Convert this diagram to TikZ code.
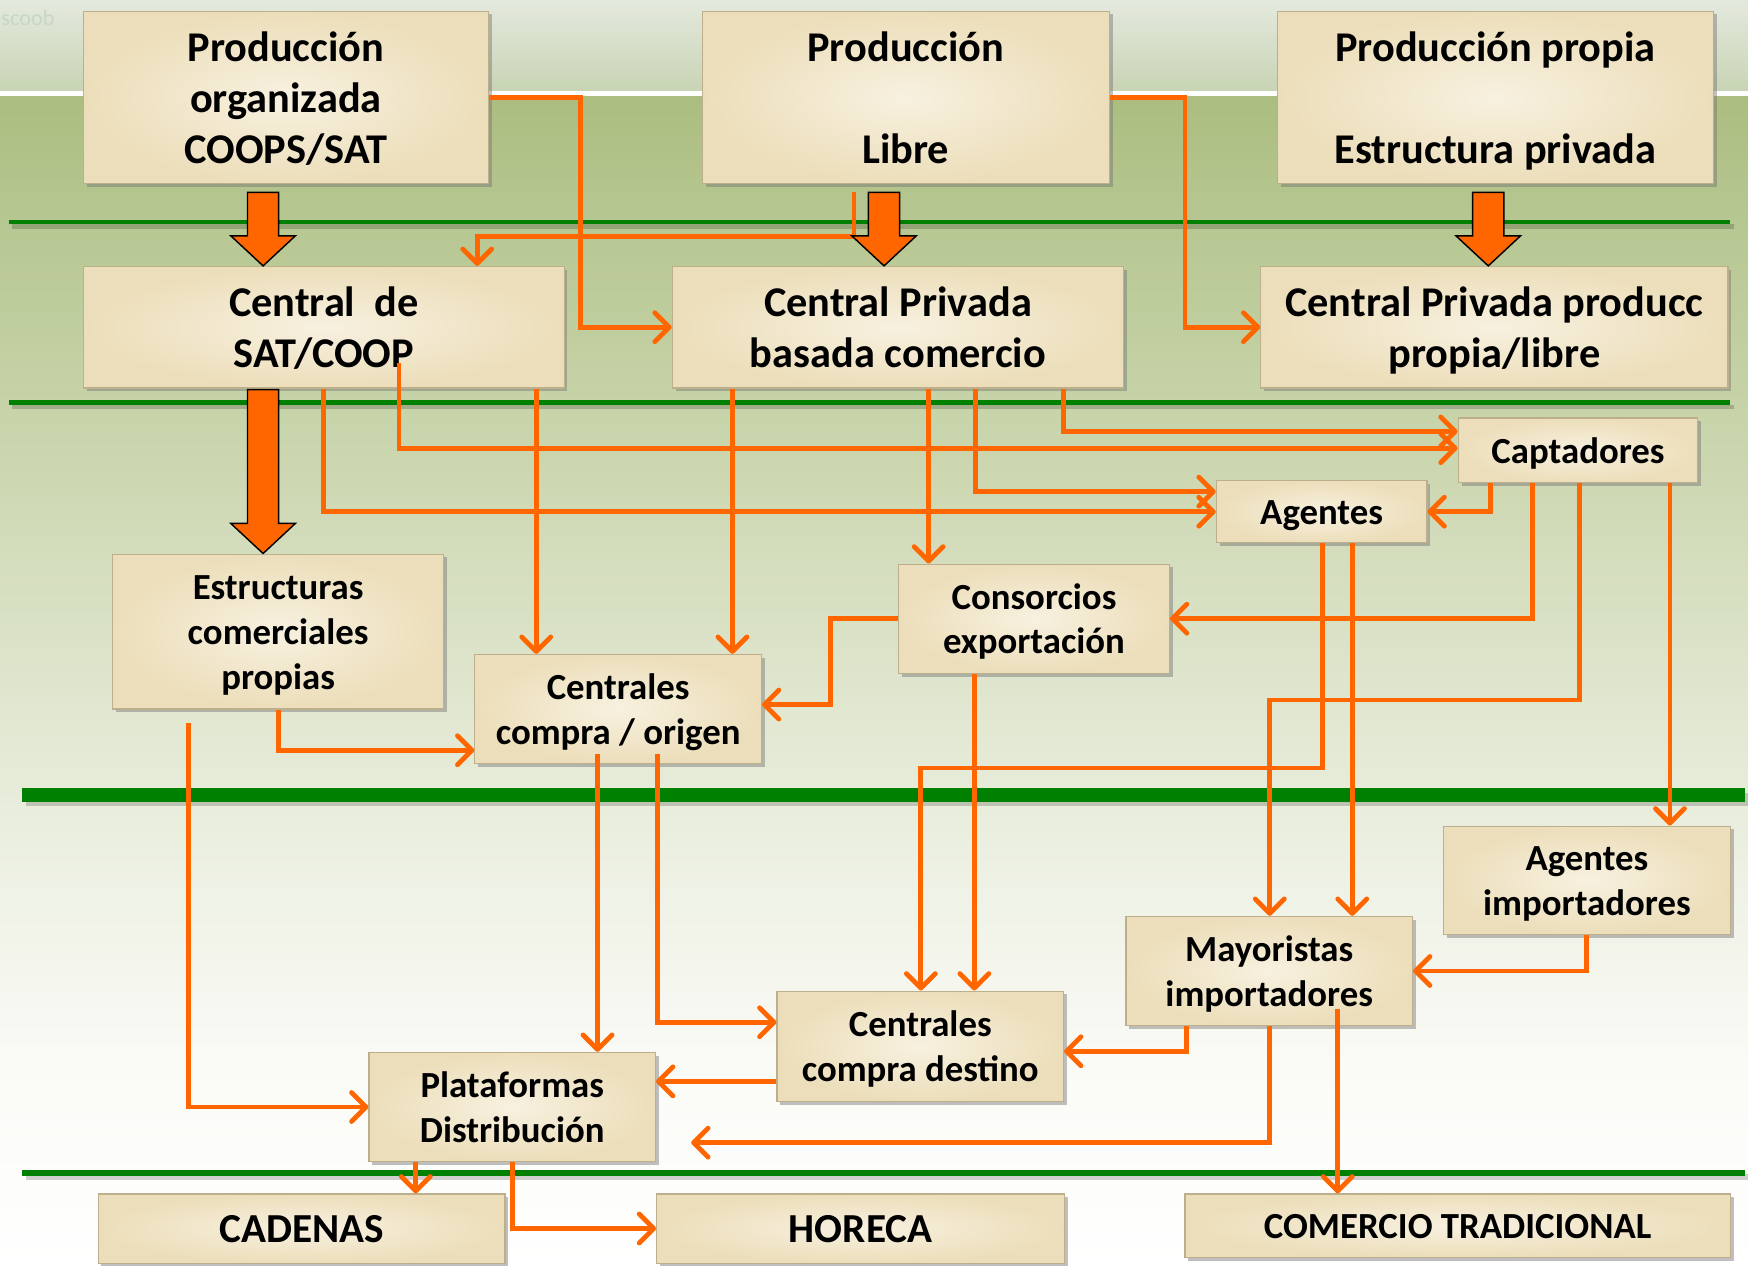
\documentclass[tikz,border=0pt]{standalone}
\usepackage{fontspec}
\setmainfont{Carlito}
\usetikzlibrary{arrows.meta,calc,shadows}
\definecolor{orng}{RGB}{255,102,0}
\definecolor{grn}{RGB}{0,128,0}
\definecolor{bgA}{RGB}{228,233,222}
\definecolor{bgB}{RGB}{200,212,180}
\definecolor{g1}{RGB}{250,250,246}
\definecolor{g2}{RGB}{239,242,230}
\definecolor{g3}{RGB}{226,232,210}
\definecolor{g4}{RGB}{212,221,189}
\definecolor{g5}{RGB}{197,210,166}
\definecolor{g6}{RGB}{183,199,146}
\definecolor{g7}{RGB}{172,189,128}
\definecolor{parchL}{RGB}{248,241,224}
\definecolor{parchD}{RGB}{236,222,186}
\definecolor{edge}{RGB}{190,175,140}
\definecolor{faint}{RGB}{200,214,198}
\pgfdeclareverticalshading{bggreen}{100bp}{color(0bp)=(white); color(25bp)=(white); color(33.9bp)=(g1); color(41.05bp)=(g2); color(48.2bp)=(g3); color(55.3bp)=(g4); color(62.5bp)=(g5); color(69.6bp)=(g6); color(75bp)=(g7); color(100bp)=(g7)}
\newcommand\blockarr[2]{\draw[bigarr] ($(#1)+(-14,0)$) -- ($(#2)+(-14,-27)$) -- ($(#2)+(-29,-27)$) -- (#2) -- ($(#2)+(29,-27)$) -- ($(#2)+(14,-27)$) -- ($(#1)+(14,0)$) -- cycle;}
\newcommand\hstrut{\rule{0pt}{1.0em}}
\newcommand\dstrut{\rule[-0.3em]{0pt}{0pt}}
\tikzset{
 box/.style={rectangle, inner sep=0pt, inner color=parchL, outer color=parchD, draw=edge, line width=1pt,
   drop shadow={shadow xshift=3pt,shadow yshift=-3pt,opacity=0.45,fill=black!55},
   align=center, text=black, font=\bfseries\fontsize{38}{46}\selectfont},
 sbox/.style={box, font=\bfseries\fontsize{33}{40}\selectfont},
 bx/.style n args={2}{minimum width=#1pt, minimum height=#2pt},
 conn/.style={draw=orng, line width=4.3pt, -{Straight Barb[round,length=13pt,width=26pt]}},
 bigarr/.style={fill=orng, draw=black, line width=1.3pt, line join=miter},
}
\begin{document}
\begin{tikzpicture}[x=1pt,y=-1pt]
\useasboundingbox (0,0) rectangle (1568,1137);
% background
\shade[top color=bgA, bottom color=bgB] (0,0) rectangle (1568,82);
\fill[white!96!bgA] (0,82) rectangle (1568,87);
\shade[shading=bggreen] (0,87) rectangle (1568,1137);
\node[font=\fontsize{20}{24}\selectfont, text=faint, anchor=base west, inner sep=0pt] (wm) at (1,23) {scoob};
% green separators
\foreach \yy/\xa/\xb/\w in {199/8/1552/4, 361/8/1552/4, 713/20/1565/12, 1052/20/1565/5} {
  \draw[black, opacity=0.18, line width=\w pt] (\xa+3,\yy+4) -- (\xb+3,\yy+4);
  \draw[grn, line width=\w pt] (\xa,\yy) -- (\xb,\yy);
}
% boxes
\node[box, bx={363}{155}] (P1) at (256.5,87.5) {\hstrut Producción\\organizada\\COOPS/SAT\dstrut};
\node[box, bx={365}{155}] (P2) at (812.5,87.5) {\hstrut Producción\\[46pt]Libre\dstrut};
\node[box, bx={391}{155}] (P3) at (1341.5,87.5) {\hstrut Producción propia\\[46pt]Estructura privada\dstrut};
\node[box, bx={431}{109}] (C1) at (290.5,293.5) {\hstrut Central\ \ de\\SAT/COOP\dstrut};
\node[box, bx={405}{109}] (C2) at (805.5,293.5) {\hstrut Central Privada\\basada comercio\dstrut};
\node[box, bx={419}{109}] (C3) at (1340.5,293.5) {\hstrut Central Privada producc\\propia/libre\dstrut};
\node[sbox, bx={215}{58}] (Capt) at (1415.5,404) {\hstrut Captadores\dstrut};
\node[sbox, bx={189}{56}] (Ag) at (1185.5,459) {\hstrut Agentes\dstrut};
\node[sbox, bx={297}{139}] (Estr) at (249.5,566.5) {\hstrut Estructuras\\comerciales\\propias\dstrut};
\node[sbox, bx={243}{98}] (Cons) at (927.5,555) {\hstrut Consorcios\\exportación\dstrut};
\node[sbox, bx={257}{98}] (CCO) at (554.5,636) {\hstrut Centrales\\compra / origen\dstrut};
\node[sbox, bx={257}{97}] (AgImp) at (1423.5,789.5) {\hstrut Agentes\\importadores\dstrut};
\node[sbox, bx={257}{98}] (May) at (1138.5,871) {\hstrut Mayoristas\\importadores\dstrut};
\node[sbox, bx={257}{99}] (CCD) at (825.5,938.5) {\hstrut Centrales\\compra destino\dstrut};
\node[sbox, bx={257}{98}] (Plat) at (459.5,993) {\hstrut Plataformas\\Distribución\dstrut};
\node[box, bx={365}{62}, font=\bfseries\fontsize{37}{44}\selectfont] (CAD) at (270.5,1102) {\hstrut CADENAS\dstrut};
\node[box, bx={366}{62}, font=\bfseries\fontsize{37}{44}\selectfont] (HOR) at (772,1102) {\hstrut HORECA\dstrut};
\node[sbox, bx={489}{57}] (COM) at (1307.5,1099.5) {\hstrut COMERCIO TRADICIONAL\dstrut};
% connectors
\draw[conn] (P1.east) -| (521,293.5) -- (C2.west);
\draw[conn] ($(P2.south -| 766,0)+(0,7)$) |- (428,212) -- (C1.north -| 428,0);
\draw[conn] (P2.east) -| (1063,293.5) -- (C3.west);
\draw[conn] (C1.south) |- (Ag.west);
\draw[conn] ($(C1.south)+(67.5,-23)$) |- ($(Capt.west)+(0,-2)$);
\draw[conn] (C1.south -| 481,0) -- (CCO.north -| 481,0);
\draw[conn] (C2.south -| 657,0) -- (CCO.north -| 657,0);
\draw[conn] (C2.south -| 833,0) -- (Cons.north -| 833,0);
\draw[conn] (C2.south -| 875,0) |- ($(Ag.west)+(0,-18)$);
\draw[conn] (C2.south -| 954,0) |- ($(Capt.west)+(0,-17)$);
\draw[conn] (Capt.south -| 1337,0) |- (Ag.east);
\draw[conn] (Capt.south -| 1375,0) |- (Cons.east);
\draw[conn] (Capt.south -| 1417,0) |- (1139,628) -- (May.north -| 1139,0);
\draw[conn] (Capt.south -| 1498,0) -- (AgImp.north -| 1498,0);
\draw[conn] (Ag.south -| 1186,0) |- (826,689) -- (CCD.north -| 826,0);
\draw[conn] (Ag.south -| 1213,0) -- (May.north -| 1213,0);
\draw[conn] (Cons.west) -| (745,632) -- (CCO.east |- 0,632);
\draw[conn] (Cons.south -| 874,0) -- (CCD.north -| 874,0);
\draw[conn] (Estr.south) |- (CCO.west |- 0,673);
\draw[conn] ($(Estr.south -| 169,0)+(0,12)$) |- (Plat.west);
\draw[conn] ($(CCO.south -| 536,0)+(0,-9)$) -- (Plat.north -| 536,0);
\draw[conn] ($(CCO.south -| 590,0)+(0,-9)$) |- (CCD.west |- 0,917);
\draw[conn] (CCD.west |- 0,970) -- (Plat.east |- 0,970);
\draw[conn] (May.south -| 1064,0) |- (CCD.east |- 0,943);
\coordinate (mayfree) at (620,1025);
\draw[conn] (May.south -| 1139,0) |- (mayfree);
\draw[conn] ($(May.south -| 1200,0)+(0,-15)$) -- (COM.north -| 1200,0);
\draw[conn] (Plat.south -| 373,0) -- (CAD.north -| 373,0);
\draw[conn] (Plat.south -| 460,0) |- (HOR.west);
\draw[conn] (AgImp.south -| 1423,0) |- (May.east);
% block arrows
\coordinate (a1s) at ($(P1.south -| 236,0)+(0,7)$);
\coordinate (a1e) at (C1.north -| 236,0);
\coordinate (a2s) at ($(P2.south -| 793,0)+(0,7)$);
\coordinate (a2e) at (C2.north -| 793,0);
\coordinate (a3s) at ($(P3.south -| 1335,0)+(0,7)$);
\coordinate (a3e) at (C3.north -| 1335,0);
\coordinate (a4s) at ($(C1.south -| 236,0)+(0,1)$);
\coordinate (a4e) at (Estr.north -| 236,0);
\blockarr{a1s}{a1e}
\blockarr{a2s}{a2e}
\blockarr{a3s}{a3e}
\blockarr{a4s}{a4e}
\end{tikzpicture}
\end{document}
